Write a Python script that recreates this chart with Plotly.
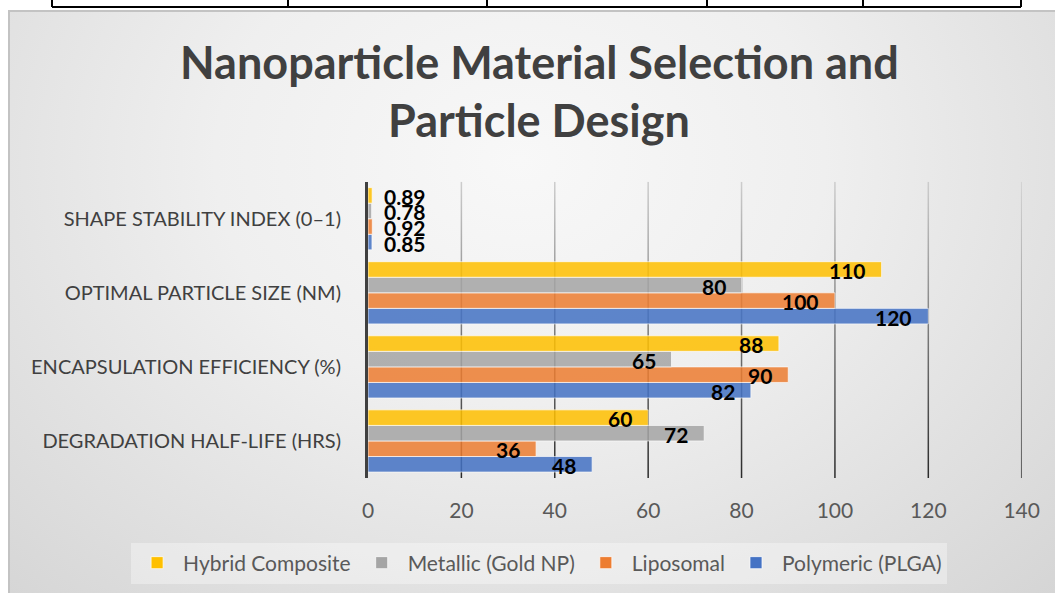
import plotly.graph_objects as go

# ---------------- data ----------------
categories = [
    "DEGRADATION HALF-LIFE (HRS)",
    "ENCAPSULATION EFFICIENCY (%)",
    "OPTIMAL PARTICLE SIZE (NM)",
    "SHAPE STABILITY INDEX (0–1)",
]
series_names = ["Polymeric (PLGA)", "Liposomal", "Metallic (Gold NP)", "Hybrid Composite"]
polymeric = [48, 82, 120, 0.85]
liposomal = [36, 90, 100, 0.92]
metallic = [72, 65, 80, 0.78]
hybrid = [60, 88, 110, 0.89]
series_values = [polymeric, liposomal, metallic, hybrid]
series_colors = ["#4472C4", "#ED7D31", "#A5A5A5", "#FFC000"]
x_ticks = [0, 20, 40, 60, 80, 100, 120, 140]
title_lines = ["Nanoparticle Material Selection and", "Particle Design"]

# ---------------- geometry / style ----------------
W, H = 1055, 593
FONT = "Lato"
BARGAP = 0.16
n_series = len(series_values)
bar_w = (1 - BARGAP) / n_series

plot_x0, plot_x1 = 368, 1021.7      # pixel edges of plot area
plot_top, plot_bot = 181.7, 478     # pixel edges of plot area
dom_x = [plot_x0 / W, plot_x1 / W]
dom_y = [(H - plot_bot) / H, (H - plot_top) / H]
y_range = [-0.5, len(categories) - 0.5]
x_range = [x_ticks[0], x_ticks[-1]]

fig = go.Figure()

# ---- background gradient (subplot xy, full chart area) ----
cx, cy, hw, hh = 520, 160, 762, 610
fig.add_trace(go.Scatter(
    x=[cx - hw, cx + hw, cx + hw, cx - hw, cx - hw],
    y=[cy - hh, cy - hh, cy + hh, cy + hh, cy - hh],
    mode="lines", line=dict(width=0), fill="toself",
    fillgradient=dict(type="radial",
                      colorscale=[[0, "#f8f8f8"], [0.4, "#efefef"], [0.72, "#e1e1e1"], [1, "#d5d5d5"]]),
    hoverinfo="skip", showlegend=False, xaxis="x", yaxis="y",
))

# ---- gradient gridlines (subplot x2y2, below bars) ----
px_per_unit = (plot_x1 - plot_x0) / (x_range[1] - x_range[0])
half_w = 0.75 / px_per_unit
for t in x_ticks[1:]:
    fig.add_trace(go.Scatter(
        x=[t - half_w, t + half_w, t + half_w, t - half_w, t - half_w],
        y=[y_range[0], y_range[0], y_range[1], y_range[1], y_range[0]],
        mode="lines", line=dict(width=0), fill="toself",
        fillgradient=dict(type="vertical", colorscale=[[0, "#2a2a2a"], [1, "#cdcdcd"]]),
        hoverinfo="skip", showlegend=False, xaxis="x2", yaxis="y2",
    ))

# ---- bars (subplot x3y3) ----
ypos = list(range(len(categories)))
annotations = []
for j, (name, vals, col) in enumerate(zip(series_names, series_values, series_colors)):
    fig.add_trace(go.Bar(
        x=vals, y=ypos, orientation="h", name=name,
        marker=dict(color=col, opacity=0.85, line=dict(color="rgba(255,255,255,0.7)", width=1)),
        xaxis="x3", yaxis="y3",
    ))
    offset = (j - (n_series - 1) / 2) * bar_w
    for i, v in enumerate(vals):
        inside = v >= 5
        annotations.append(dict(
            x=v, y=ypos[i] + offset, xref="x3", yref="y3",
            text=f"{v:g}", showarrow=False,
            xanchor="right" if inside else "left",
            xshift=-14 if inside else 10, yshift=-1, yanchor="middle",
            font=dict(family=FONT, size=21, color="#000000", weight="bold"),
        ))

# ---- title (two lines) ----
title_y = [62, 120]
for line, ty in zip(title_lines, title_y):
    annotations.append(dict(
        x=0.511, y=1 - ty / H, xref="paper", yref="paper", text=line, showarrow=False,
        xanchor="center", yanchor="middle",
        font=dict(family=FONT, size=45, color="#404040", weight="bold"),
    ))

# ---- decorative shapes: table border above, chart area border ----
table_cols = [52, 288, 487, 707, 863, 1021]
shapes = [dict(type="line", xref="paper", yref="paper",
               x0=table_cols[0] / W, x1=table_cols[-1] / W, y0=1 - 7 / H, y1=1 - 7 / H,
               line=dict(color="#000000", width=2))]
for c in table_cols:
    shapes.append(dict(type="line", xref="paper", yref="paper",
                       x0=c / W, x1=c / W, y0=1, y1=1 - 7 / H,
                       line=dict(color="#000000", width=2)))
shapes.append(dict(type="line", xref="paper", yref="paper", x0=8 / W, x1=1, y0=1 - 11 / H, y1=1 - 11 / H,
                   line=dict(color="#c3c3c3", width=2)))
shapes.append(dict(type="line", xref="paper", yref="paper", x0=9 / W, x1=9 / W, y0=0, y1=1 - 11 / H,
                   line=dict(color="#c3c3c3", width=2)))

hidden = dict(visible=False, showgrid=False, zeroline=False, fixedrange=True, automargin=False)
fig.update_layout(
    width=W, height=H,
    autosize=False,
    margin=dict(l=0, r=0, t=0, b=0, autoexpand=False),
    paper_bgcolor="#ffffff", plot_bgcolor="rgba(0,0,0,0)",
    font=dict(family=FONT),
    barmode="group", bargap=BARGAP, bargroupgap=0,
    xaxis=dict(domain=[9 / W, 1], range=[9, W], **hidden),
    yaxis=dict(domain=[0, 1 - 11 / H], range=[H, 11], **hidden),
    xaxis2=dict(domain=dom_x, range=x_range, anchor="y2", **hidden),
    yaxis2=dict(domain=dom_y, range=y_range, anchor="x2", **hidden),
    xaxis3=dict(domain=dom_x, range=x_range, anchor="y3", tickvals=x_ticks,
                showgrid=False, zeroline=False, showline=False, ticks="",
                ticklabelstandoff=18, automargin=False,
                tickfont=dict(family=FONT, size=21, color="#595959"), fixedrange=True),
    yaxis3=dict(domain=dom_y, range=y_range, anchor="x3", tickvals=ypos, ticktext=categories,
                showgrid=False, zeroline=False, showline=True, linecolor="#404040", linewidth=3,
                ticks="", ticklabelstandoff=20, automargin=False,
                tickfont=dict(family=FONT, size=20, color="#404040"), fixedrange=True),
    legend=dict(orientation="h", traceorder="reversed", x=0.511, xanchor="center",
                y=(H - 563) / H, yanchor="middle", bgcolor="rgba(255,255,255,0.35)",
                itemwidth=42,
                font=dict(family=FONT, size=21, color="#595959")),
    annotations=annotations,
    shapes=shapes,
)

fig.write_html(
    "out.html",
    post_script="document.documentElement.style.overflow='hidden';"
                "document.body.style.margin='0';document.body.style.overflow='hidden';",
)
